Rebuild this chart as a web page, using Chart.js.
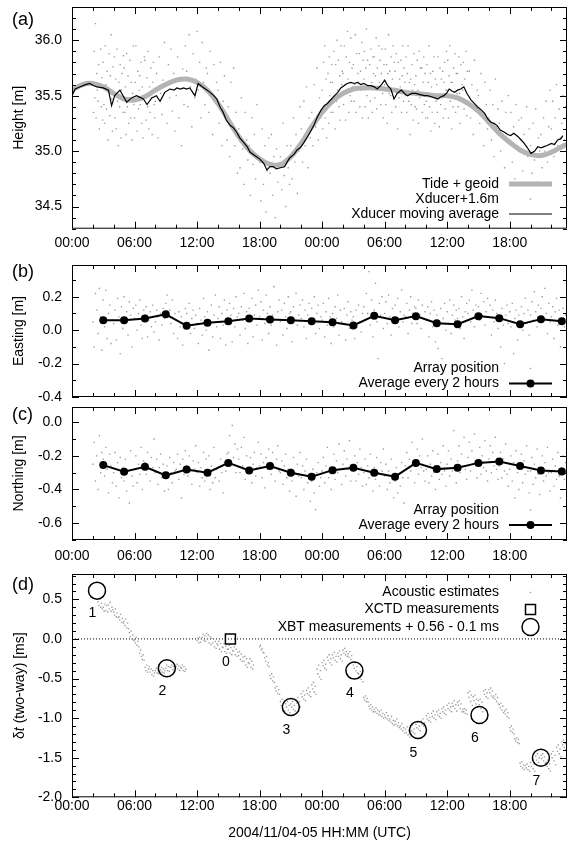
<!DOCTYPE html>
<html>
<head>
<meta charset="utf-8">
<title>Array height, position and travel-time anomaly</title>
<script src="https://cdn.jsdelivr.net/npm/chart.js@4/dist/chart.umd.min.js"></script>
<style>
  html, body { margin: 0; padding: 0; background: #fff; }
  body { width: 568px; height: 843px; position: relative; overflow: hidden; }
  canvas { position: absolute; left: 0; }
</style>
</head>
<body>
<canvas id="panelA" width="568" height="252" style="top:0px"></canvas>
<canvas id="panelB" width="568" height="160" style="top:252px"></canvas>
<canvas id="panelC" width="568" height="170" style="top:402px"></canvas>
<canvas id="panelD" width="568" height="271" style="top:572px"></canvas>
<script>
// ---------------------------------------------------------------
// Time axis: hours since 2004/11/04 00:00 UTC
// ---------------------------------------------------------------
const X_MAX = 47.5;
const hourTicks = [0, 6, 12, 18, 24, 30, 36, 42];
const heightTicks = [34.5, 35.0, 35.5, 36.0];
const eastTicks = [-0.4, -0.2, 0.0, 0.2];
const northTicks = [-0.6, -0.4, -0.2, 0.0];
const dtTicks = [-2.0, -1.5, -1.0, -0.5, 0.0, 0.5];

// (a) predicted tide + geoid height, hourly
const tideHours = [0,1,2,3,4,5,6,7,8,9,10,11,12,13,14,15,16,17,18,19,20,21,22,23,24,25,26,27,28,29,30,31,32,33,34,35,36,37,38,39,40,41,42,43,44,45,46,47,47.5];
const tideHeight = [35.55,35.60,35.61,35.58,35.52,35.47,35.46,35.49,35.55,35.60,35.64,35.65,35.62,35.55,35.43,35.28,35.13,35.01,34.93,34.88,34.88,34.95,35.07,35.22,35.35,35.45,35.52,35.56,35.57,35.57,35.56,35.55,35.53,35.52,35.51,35.50,35.50,35.48,35.43,35.36,35.26,35.16,35.08,35.01,34.97,34.96,34.99,35.04,35.06];

// (a) transducer moving average
const maHours = [0.0,0.3,0.8,1.3,1.7,2.1,2.4,3.0,3.5,3.8,4.1,4.6,4.9,5.25,5.7,6.2,6.85,7.2,7.65,8.1,8.45,8.9,9.4,9.8,10.05,10.4,10.7,11.0,11.3,11.8,12.1,12.5,12.8,13.25,13.6,13.9,14.2,14.5,14.8,15.2,15.5,15.8,16.1,16.45,16.8,17.1,17.4,17.7,18.0,18.4,18.7,19.0,19.3,19.6,20.0,20.4,20.7,20.9,21.3,21.6,21.9,22.2,22.6,22.85,23.2,23.55,23.9,24.2,24.5,24.9,25.2,25.5,25.8,26.1,26.4,26.75,27.1,27.4,27.7,28.0,28.4,28.7,29.0,29.3,29.7,30.0,30.3,30.6,30.9,31.2,31.6,31.9,32.2,32.6,33.0,33.4,33.8,34.1,34.5,34.8,35.1,35.4,35.7,36.0,36.2,36.5,36.7,37.0,37.3,37.6,37.9,38.3,38.6,38.9,39.3,39.6,39.9,40.2,40.5,40.8,41.1,41.5,41.8,42.1,42.4,42.8,43.1,43.4,43.7,44.05,44.4,44.7,45.0,45.3,45.6,46.0,46.3,46.6,46.9,47.1];
const maHeight = [35.50,35.56,35.58,35.60,35.61,35.59,35.58,35.57,35.55,35.41,35.50,35.55,35.50,35.44,35.48,35.50,35.47,35.42,35.48,35.50,35.45,35.53,35.56,35.55,35.57,35.56,35.57,35.56,35.57,35.50,35.61,35.58,35.56,35.53,35.50,35.47,35.40,35.35,35.28,35.23,35.21,35.17,35.12,35.08,35.04,34.99,34.97,34.95,34.93,34.89,34.83,34.86,34.86,34.84,34.85,34.86,34.91,34.94,34.97,35.01,35.03,35.07,35.13,35.17,35.23,35.31,35.37,35.41,35.43,35.47,35.50,35.53,35.57,35.59,35.61,35.62,35.61,35.62,35.60,35.61,35.59,35.59,35.58,35.56,35.60,35.64,35.59,35.56,35.47,35.52,35.55,35.52,35.50,35.52,35.52,35.51,35.50,35.50,35.49,35.48,35.47,35.49,35.50,35.53,35.56,35.54,35.53,35.55,35.56,35.58,35.52,35.46,35.43,35.40,35.37,35.34,35.29,35.26,35.25,35.23,35.19,35.17,35.15,35.14,35.16,35.13,35.10,35.07,35.03,34.98,35.00,35.04,35.03,35.04,35.05,35.07,35.06,35.10,35.11,35.14];

// (a) individual transducer fixes (+1.6 m), one row per hour from 02:00,
// spread evenly across the hour (at least 8 slots per hour)
const xducerStartHour = 2;
const xducerPerHour = 8;
const xducerRows = [
  [35.62,35.35,35.90,35.48,36.15,35.30,35.70,35.55,35.45,35.78,35.20,35.58,35.92,35.40,35.66,35.28],
  [35.80,35.42,35.25,35.95,35.60,35.38,35.72,35.10,35.55,35.88,35.32,35.68,36.05,35.47,35.18,35.76],
  [35.50,35.85,35.30,35.65,35.20,35.92,35.45,35.05,35.62,35.40,35.78,35.12,35.55,35.70,35.35,35.86],
  [35.75,35.35,35.58,35.15,35.88,35.40,35.68,35.25,35.48,35.82,35.30,35.62,35.10,35.52,35.95,35.42],
  [35.30,35.62,35.95,35.45,35.18,35.72,35.38,35.55,35.68,35.42,35.80,35.25,35.58,35.12,35.50,35.85],
  [35.82,35.50,35.28,35.66,35.40,35.90,35.20,35.58,35.35,35.75,35.48,35.15,35.62,35.80,35.42,35.30],
  [35.45,35.70,35.12,35.85,35.52,35.33,35.64,35.98],
  [35.60,35.25,35.78,35.48,35.92,35.36,35.70,35.18],
  [35.50,35.85,35.30,35.66,35.05,35.74,35.42,35.95],
  [35.72,35.40,36.05,35.58,35.22,35.88,35.48,35.65],
  [36.08,35.55,35.80,35.30,35.98,35.62,35.42,35.75],
  [35.70,35.35,35.90,35.52,35.15,35.78,35.45,35.62],
  [35.55,35.25,35.80,35.05,35.45,35.68,35.30,35.10],
  [35.40,34.95,35.62,35.20,35.75,35.05,35.35,34.80],
  [35.20,34.85,35.48,35.02,34.70,35.35,35.10,34.92],
  [35.05,34.60,35.30,34.88,35.15,34.75,35.42,34.95],
  [34.90,34.55,35.20,34.70,35.05,34.45,34.82,35.12],
  [34.80,35.15,34.60,34.95,34.40,35.02,34.72,34.88],
  [34.95,34.65,35.25,34.78,34.50,35.05,34.85,34.70],
  [35.05,34.75,35.30,34.90,35.15,34.62,35.00,35.40],
  [35.20,34.90,35.45,35.05,35.58,34.85,35.30,35.12],
  [35.35,35.05,35.60,35.22,35.75,35.10,35.48,35.30],
  [35.55,35.20,35.80,35.40,35.95,35.30,35.65,35.12,35.42,35.70,35.25,35.85,35.50,35.62,35.35,35.78],
  [35.62,35.35,35.90,35.50,35.20,35.78,35.45,36.00,35.55,35.82,35.40,35.68,35.28,35.95,35.60,35.72],
  [35.70,35.42,35.95,35.60,35.28,35.85,35.52,36.08,35.65,35.35,35.80,35.50,36.02,35.45,35.75,35.58],
  [35.78,35.45,35.60,36.05,35.35,35.88,35.55,35.70,35.62,35.88,35.40,35.72,35.55,35.98,35.30,35.82],
  [35.65,35.90,35.40,35.75,36.10,35.50,35.82,35.30,35.58,35.78,35.45,35.92,35.62,35.35,35.85,35.70],
  [35.85,35.48,35.68,36.02,35.38,35.75,35.58,35.95,35.62,35.82,35.42,35.70,35.92,35.52,35.30,35.78],
  [35.60,35.92,35.42,35.78,35.25,35.70,36.05,35.52,35.72,35.50,35.85,35.35,35.65,35.95,35.48,35.80],
  [35.72,35.40,35.88,35.55,35.20,35.80,35.48,35.65,35.58,35.82,35.35,35.68,35.95,35.45,35.75,35.62],
  [35.50,35.85,35.35,35.70,35.95,35.45,35.62,35.15,35.65,35.42,35.78,35.55,35.28,35.88,35.60,35.40],
  [35.68,35.38,35.82,35.55,35.25,35.90,35.48,35.75,35.52,35.75,35.35,35.62,35.85,35.42,35.70,35.30],
  [35.45,35.78,35.30,35.62,35.95,35.40,35.70,35.18,35.58,35.35,35.72,35.50,35.85,35.25,35.65,35.45],
  [35.60,35.35,35.85,35.50,35.22,35.75,35.42,35.65,35.48,35.72,35.30,35.62,35.80,35.38,35.55,35.90],
  [35.55,35.82,35.30,35.68,35.95,35.45,35.62,35.20,35.62,35.40,35.75,35.48,35.88,35.35,35.70,35.52],
  [35.70,35.40,35.85,35.52,35.25,35.78,35.48,35.60,35.55,35.80,35.38,35.65,35.45,35.90,35.32,35.72],
  [35.45,35.72,35.30,35.60,35.15,35.82,35.38,35.55],
  [35.50,35.25,35.70,35.35,35.05,35.62,35.42,35.20],
  [35.30,35.55,35.10,35.42,34.95,35.65,35.22,35.38],
  [35.25,35.00,35.45,35.15,34.85,35.35,35.08,35.50],
  [35.10,35.35,34.90,35.22,34.75,35.42,35.05,35.28],
  [35.02,35.30,34.82,35.15,34.70,35.40,34.95,35.20],
  [35.05,34.80,35.25,34.92,35.38,34.72,35.12,35.00],
  [35.15,34.85,35.30,35.00,35.45,34.90,35.22,35.55],
  [35.20,35.45,34.95,35.30,35.60,35.05,35.38,35.12],
  [35.25,35.50,35.10,35.40]
];

// (b), (c) two-hour averages of the array position
const avgHours = [3,5,7,9,11,13,15,17,19,21,23,25,27,29,31,33,35,37,39,41,43,45,47];
const eastingAvg = [0.060,0.060,0.070,0.095,0.026,0.044,0.054,0.070,0.064,0.060,0.054,0.048,0.028,0.086,0.060,0.084,0.042,0.036,0.084,0.072,0.036,0.066,0.054];
const northingAvg = [-0.255,-0.295,-0.265,-0.316,-0.281,-0.300,-0.242,-0.287,-0.261,-0.300,-0.324,-0.285,-0.271,-0.300,-0.324,-0.242,-0.279,-0.271,-0.242,-0.234,-0.261,-0.287,-0.293];

// (b), (c) individual array positions, 8 per hour from 02:00
const positionStartHour = 2;
const positionPerHour = 8;
const eastingRows = [
  [0.05,-0.10,0.22,0.12,-0.02,0.25,0.08,-0.12],
  [0.18,0.02,0.24,-0.05,0.10,0.15,-0.08,0.06],
  [0.04,0.12,-0.06,0.19,0.08,-0.14,0.14,0.01],
  [0.20,0.06,0.11,-0.03,0.17,0.09,-0.10,0.13],
  [0.07,0.15,0.00,0.10,0.18,0.03,-0.05,0.12],
  [0.09,0.14,-0.04,0.06,0.11,0.02,0.15,-0.01],
  [0.05,0.12,0.08,-0.06,0.10,0.03,0.13,0.07],
  [0.16,0.21,0.09,0.12,0.04,0.18,-0.02,0.10],
  [0.06,-0.05,0.11,0.02,0.08,-0.09,0.04,0.13],
  [0.10,0.03,0.16,-0.02,0.07,0.12,0.01,0.09],
  [0.04,-0.08,0.13,0.06,-0.03,0.19,0.08,0.00],
  [0.11,-0.12,0.05,0.15,-0.04,0.09,0.21,0.02],
  [0.07,0.14,-0.05,0.10,0.03,0.18,-0.09,0.12],
  [0.05,0.16,0.09,-0.07,0.13,0.02,0.20,0.08],
  [0.10,-0.03,0.14,0.06,0.22,0.01,0.11,-0.08],
  [0.13,0.05,0.19,-0.04,0.09,0.15,0.03,0.24],
  [0.08,0.17,-0.06,0.12,0.04,0.21,0.10,-0.02],
  [0.14,0.03,0.09,0.26,0.06,-0.09,0.11,0.18],
  [0.05,0.12,-0.03,0.16,0.08,0.01,0.20,0.10],
  [0.11,-0.07,0.14,0.06,0.22,0.03,0.09,0.15],
  [0.07,0.18,0.02,0.12,-0.05,0.09,0.16,0.04],
  [0.13,0.05,0.20,-0.02,0.10,0.15,0.01,0.08],
  [0.06,0.16,-0.04,0.11,0.03,0.19,0.08,-0.08],
  [0.10,0.02,0.14,0.07,0.21,-0.03,0.12,0.05],
  [0.04,0.13,-0.06,0.09,0.17,0.01,0.11,0.06],
  [0.08,-0.05,0.12,0.02,0.15,0.05,-0.01,0.10],
  [0.14,0.06,0.22,0.10,0.35,0.03,0.18,-0.04],
  [0.12,0.28,0.05,-0.17,0.16,0.09,0.20,0.01],
  [0.10,0.17,0.04,0.21,0.08,-0.03,0.13,0.06],
  [0.15,0.07,0.19,0.02,0.11,0.24,0.05,0.09],
  [0.08,0.16,-0.02,0.12,0.20,0.04,0.10,0.14],
  [0.13,0.04,0.18,0.09,0.01,0.15,0.07,0.11],
  [0.06,0.14,-0.04,0.10,0.17,0.02,0.12,-0.07],
  [0.09,-0.11,0.05,0.13,-0.17,0.07,0.16,0.00],
  [0.11,0.04,0.18,-0.02,0.09,0.15,0.06,0.12],
  [0.07,0.13,0.01,0.20,0.08,-0.05,0.11,0.16],
  [0.10,0.18,0.05,0.24,0.12,0.02,0.15,0.07],
  [0.14,0.06,0.22,0.09,0.17,0.03,0.11,0.19],
  [0.08,0.15,-0.03,0.12,0.05,0.18,0.10,0.01],
  [0.06,-0.10,0.13,0.03,-0.20,0.09,0.15,0.04],
  [0.11,0.02,0.16,-0.14,0.07,0.12,-0.06,0.09],
  [0.05,0.14,0.00,0.10,0.19,0.04,0.12,-0.03],
  [0.09,0.17,0.06,0.23,0.11,0.02,0.15,0.08],
  [0.13,0.20,0.07,0.25,0.10,-0.02,0.16,0.05],
  [0.08,0.14,-0.05,0.11,0.19,0.03,0.12,-0.10],
  [0.06,0.13,0.02,0.09]
];
const northingRows = [
  [-0.25,-0.12,-0.35,-0.20,-0.40,-0.08,-0.30,-0.18],
  [-0.22,-0.32,-0.15,-0.28,-0.42,-0.19,-0.26,-0.36],
  [-0.30,-0.18,-0.38,-0.24,-0.45,-0.21,-0.33,-0.27],
  [-0.35,-0.22,-0.41,-0.29,-0.48,-0.17,-0.32,-0.38],
  [-0.28,-0.20,-0.36,-0.25,-0.31,-0.15,-0.40,-0.23],
  [-0.24,-0.31,-0.18,-0.28,-0.35,-0.21,-0.27,-0.10],
  [-0.30,-0.22,-0.37,-0.27,-0.19,-0.33,-0.25,-0.41],
  [-0.33,-0.26,-0.40,-0.21,-0.30,-0.36,-0.24,-0.29],
  [-0.28,-0.19,-0.34,-0.25,-0.45,-0.22,-0.31,-0.17],
  [-0.26,-0.32,-0.20,-0.29,-0.37,-0.23,-0.28,-0.14],
  [-0.30,-0.24,-0.38,-0.27,-0.33,-0.18,-0.35,-0.22],
  [-0.31,-0.20,-0.40,-0.26,-0.36,-0.15,-0.33,-0.28],
  [-0.27,-0.35,-0.22,-0.30,-0.42,-0.24,-0.29,-0.19],
  [-0.18,-0.08,-0.25,-0.02,-0.21,-0.13,-0.30,-0.16],
  [-0.22,-0.30,-0.15,-0.26,-0.09,-0.34,-0.20,-0.27],
  [-0.29,-0.21,-0.36,-0.25,-0.18,-0.32,-0.27,-0.12],
  [-0.26,-0.19,-0.33,-0.24,-0.39,-0.21,-0.28,-0.16],
  [-0.24,-0.31,-0.18,-0.27,-0.35,-0.22,-0.14,-0.29],
  [-0.30,-0.23,-0.37,-0.26,-0.19,-0.33,-0.28,-0.41],
  [-0.28,-0.35,-0.21,-0.30,-0.44,-0.25,-0.32,-0.18],
  [-0.33,-0.26,-0.40,-0.29,-0.22,-0.36,-0.31,-0.47],
  [-0.35,-0.28,-0.42,-0.52,-0.30,-0.24,-0.38,-0.33],
  [-0.29,-0.21,-0.36,-0.26,-0.15,-0.33,-0.27,-0.40],
  [-0.27,-0.19,-0.34,-0.23,-0.30,-0.13,-0.28,-0.37],
  [-0.25,-0.17,-0.32,-0.22,-0.28,-0.11,-0.35,-0.26],
  [-0.28,-0.20,-0.35,-0.24,-0.31,-0.16,-0.27,-0.38],
  [-0.30,-0.22,-0.37,-0.26,-0.33,-0.19,-0.29,-0.41],
  [-0.27,-0.34,-0.21,-0.30,-0.38,-0.24,-0.29,-0.16],
  [-0.32,-0.25,-0.40,-0.29,-0.36,-0.22,-0.34,-0.45],
  [-0.35,-0.27,-0.42,-0.31,-0.38,-0.24,-0.33,-0.48],
  [-0.26,-0.18,-0.33,-0.22,-0.29,-0.12,-0.25,-0.36],
  [-0.24,-0.16,-0.31,-0.20,-0.27,-0.10,-0.29,-0.35],
  [-0.28,-0.20,-0.36,-0.25,-0.32,-0.17,-0.30,-0.40],
  [-0.27,-0.19,-0.34,-0.24,-0.31,-0.14,-0.29,-0.38],
  [-0.25,-0.17,-0.32,-0.22,-0.29,-0.05,-0.27,-0.36],
  [-0.23,-0.14,-0.30,-0.19,-0.26,-0.09,-0.28,-0.34],
  [-0.21,-0.12,-0.29,-0.17,-0.25,-0.07,-0.26,-0.33],
  [-0.24,-0.15,-0.31,-0.20,-0.27,-0.11,-0.29,-0.35],
  [-0.22,-0.14,-0.30,-0.18,-0.26,-0.09,-0.28,-0.34],
  [-0.26,-0.18,-0.33,-0.22,-0.29,-0.13,-0.31,-0.38],
  [-0.28,-0.20,-0.35,-0.24,-0.45,-0.17,-0.30,-0.40],
  [-0.27,-0.19,-0.36,-0.23,-0.31,-0.14,-0.29,-0.42],
  [-0.29,-0.21,-0.37,-0.25,-0.33,-0.16,-0.31,-0.43],
  [-0.28,-0.20,-0.35,-0.24,-0.32,-0.15,-0.30,-0.41],
  [-0.30,-0.22,-0.38,-0.26,-0.34,-0.18,-0.32,-0.45],
  [-0.27,-0.20,-0.34,-0.24]
];

// (d) acoustic travel-time estimates: [bin start hour, six values over the half hour]
const acousticBinHours = 0.5;
const acousticBins = [
  [2.5,0.47,0.42,0.50,0.40,0.45,0.38],[3.0,0.40,0.35,0.44,0.36,0.42,0.34],[3.5,0.43,0.38,0.46,0.35,0.40,0.37],
  [4.0,0.34,0.30,0.38,0.28,0.33,0.27],[4.5,0.28,0.24,0.31,0.21,0.26,0.20],[5.0,0.22,0.17,0.25,0.14,0.20,0.13],
  [5.5,0.08,0.03,0.10,0.00,0.05,-0.02],[6.0,-0.01,-0.05,0.02,-0.08,-0.03,-0.10],[6.5,-0.18,-0.14,-0.22,-0.26,-0.20,-0.27],
  [7.0,-0.36,-0.40,-0.33,-0.42,-0.38,-0.35],[7.5,-0.42,-0.38,-0.45,-0.40,-0.47,-0.43],[8.0,-0.40,-0.37,-0.43,-0.39,-0.44,-0.41],
  [8.5,-0.39,-0.36,-0.42,-0.38,-0.43,-0.40],[9.0,-0.37,-0.33,-0.40,-0.35,-0.41,-0.36],[9.5,-0.36,-0.33,-0.39,-0.35,-0.40,-0.37],
  [10.0,-0.35,-0.32,-0.38,-0.34,-0.40,-0.36],[10.5,-0.37,-0.33,-0.40,-0.35,-0.41,-0.38],
  [12.0,-0.02,0.01,-0.05,0.02,-0.04,0.00],[12.5,0.02,0.06,-0.02,0.04,-0.03,0.07],[13.0,0.00,0.05,-0.05,0.03,-0.07,0.01],
  [13.5,-0.05,0.00,-0.10,-0.03,-0.12,-0.06],[14.0,-0.08,-0.03,-0.13,-0.06,-0.16,-0.10],[14.5,-0.11,-0.06,-0.16,-0.09,-0.18,-0.13],
  [15.0,-0.13,-0.08,-0.18,-0.11,-0.20,-0.15],[15.5,-0.15,-0.10,-0.20,-0.13,-0.22,-0.17],[16.0,-0.21,-0.16,-0.26,-0.19,-0.28,-0.23],
  [16.5,-0.28,-0.22,-0.33,-0.25,-0.36,-0.30],[17.0,-0.31,-0.25,-0.36,-0.28,-0.38,-0.33],
  [18.0,-0.10,-0.08,-0.14,-0.12,-0.17,-0.18],[18.5,-0.24,-0.28,-0.22,-0.33,-0.30,-0.35],[19.0,-0.46,-0.50,-0.44,-0.53,-0.48,-0.55],
  [19.5,-0.62,-0.66,-0.60,-0.69,-0.64,-0.70],[20.0,-0.79,-0.84,-0.76,-0.88,-0.81,-0.91],[20.5,-0.82,-0.86,-0.79,-0.90,-0.84,-0.93],
  [21.0,-0.82,-0.86,-0.79,-0.89,-0.84,-0.91],[21.5,-0.77,-0.81,-0.74,-0.84,-0.79,-0.86],[22.0,-0.69,-0.73,-0.66,-0.76,-0.71,-0.78],
  [22.5,-0.65,-0.69,-0.62,-0.71,-0.67,-0.73],[23.0,-0.58,-0.63,-0.55,-0.67,-0.60,-0.70],[23.5,-0.38,-0.44,-0.33,-0.48,-0.40,-0.51],
  [24.0,-0.30,-0.34,-0.27,-0.37,-0.32,-0.39],[24.5,-0.23,-0.27,-0.20,-0.30,-0.25,-0.33],[25.0,-0.20,-0.24,-0.17,-0.27,-0.22,-0.29],
  [25.5,-0.18,-0.22,-0.15,-0.25,-0.20,-0.28],[26.0,-0.14,-0.18,-0.12,-0.20,-0.16,-0.22],[26.5,-0.19,-0.23,-0.16,-0.26,-0.21,-0.29],
  [27.0,-0.33,-0.37,-0.30,-0.40,-0.35,-0.43],[27.5,-0.44,-0.48,-0.41,-0.51,-0.46,-0.54],[28.0,-0.74,-0.77,-0.72,-0.79,-0.75,-0.80],
  [28.5,-0.85,-0.88,-0.83,-0.90,-0.86,-0.92],[29.0,-0.89,-0.92,-0.87,-0.94,-0.90,-0.96],[29.5,-0.92,-0.96,-0.90,-0.98,-0.94,-1.00],
  [30.0,-0.96,-0.99,-0.93,-1.01,-0.97,-1.03],[30.5,-1.01,-1.05,-0.98,-1.07,-1.03,-1.09],[31.0,-1.04,-1.08,-1.01,-1.10,-1.06,-1.12],
  [31.5,-1.10,-1.14,-1.07,-1.16,-1.12,-1.19],[32.0,-1.14,-1.18,-1.11,-1.21,-1.16,-1.24],[32.5,-1.12,-1.16,-1.09,-1.18,-1.14,-1.20],
  [33.0,-1.08,-1.12,-1.05,-1.14,-1.10,-1.16],[33.5,-1.04,-1.08,-1.01,-1.10,-1.06,-1.12],[34.0,-0.97,-1.01,-0.94,-1.03,-0.99,-1.05],
  [34.5,-0.94,-0.98,-0.91,-1.00,-0.96,-1.02],[35.0,-0.92,-0.96,-0.90,-0.98,-0.94,-1.00],[35.5,-0.88,-0.92,-0.86,-0.94,-0.90,-0.96],
  [36.0,-0.84,-0.88,-0.81,-0.90,-0.86,-0.92],[36.5,-0.81,-0.85,-0.78,-0.88,-0.83,-0.91],[37.0,-0.80,-0.84,-0.78,-0.88,-0.82,-0.92],
  [37.5,-0.89,-0.92,-0.88,-0.94,-0.90,-0.95],[38.0,-0.68,-0.74,-0.66,-0.79,-0.71,-0.84],[38.5,-0.73,-0.78,-0.71,-0.82,-0.76,-0.86],
  [39.0,-0.78,-0.83,-0.76,-0.88,-0.80,-0.92],[39.5,-0.66,-0.70,-0.64,-0.73,-0.68,-0.75],[40.0,-0.64,-0.68,-0.62,-0.72,-0.66,-0.74],
  [40.5,-0.72,-0.76,-0.70,-0.79,-0.74,-0.82],[41.0,-0.83,-0.87,-0.81,-0.90,-0.85,-0.93],[41.5,-0.91,-0.95,-0.89,-0.98,-0.93,-1.00],
  [42.0,-1.12,-1.16,-1.10,-1.18,-1.14,-1.20],[42.5,-1.26,-1.29,-1.25,-1.31,-1.27,-1.32],[43.0,-1.57,-1.61,-1.55,-1.63,-1.59,-1.65],
  [43.5,-1.60,-1.63,-1.58,-1.65,-1.61,-1.67],[44.0,-1.56,-1.61,-1.53,-1.64,-1.58,-1.67],[44.5,-1.48,-1.53,-1.45,-1.56,-1.50,-1.60],
  [45.0,-1.47,-1.51,-1.45,-1.54,-1.49,-1.57],[45.5,-1.56,-1.61,-1.53,-1.64,-1.58,-1.67],[46.0,-1.45,-1.50,-1.42,-1.54,-1.47,-1.59],
  [46.5,-1.37,-1.42,-1.34,-1.45,-1.39,-1.49],[47.0,-1.30,-1.34,-1.28,-1.37,-1.32,-1.40]
];

// (d) probe casts
const xctdHours = [15.2];
const xctdDt = [0.0];
const xctdLabels = ['0'];
const xbtHours = [2.4, 9.1, 21.0, 27.1, 33.2, 39.1, 45.0];
const xbtDt = [0.61, -0.37, -0.86, -0.40, -1.15, -0.96, -1.50];
const xbtLabels = ['1', '2', '3', '4', '5', '6', '7'];

// (d) reference level
const zeroLineHours = [0, X_MAX];
const zeroLineDt = [0, 0];

// ---------------------------------------------------------------
// helpers
// ---------------------------------------------------------------
const FONT = '"Liberation Sans", Arial, Helvetica, sans-serif';
const DOT = '#9a9a9a';
Chart.defaults.font.family = FONT;
Chart.defaults.font.size = 14;
Chart.defaults.color = '#000';

const zip = (xs, ys) => xs.map((x, i) => ({ x, y: ys[i] }));
function hourlyRows(start, perHour, rows) {
  const pts = [];
  rows.forEach((row, i) => {
    const slots = Math.max(row.length, perHour);
    row.forEach((v, k) => pts.push({ x: start + i + k / slots, y: v }));
  });
  return pts;
}
function binRows(span, rows) {
  const pts = [];
  rows.forEach(([t0, ...vals]) => vals.forEach((v, k) => pts.push({ x: t0 + k * span / vals.length, y: v })));
  return pts;
}
function hh(v) {
  const h = ((v % 24) + 24) % 24;
  return String(h).padStart(2, '0') + ':00';
}
function dotSet(label, data) {
  return { label, data, pointStyle: 'rect', pointRadius: 0.95, pointBorderWidth: 0,
           pointBackgroundColor: DOT, backgroundColor: DOT, showLine: false, order: 5 };
}

// gnuplot-style frame: border, inward ticks on all four sides, panel letter, key, annotations
function framePlugin(cfg) {
  return {
    id: 'gnuFrame',
    afterDraw(chart) {
      const ctx = chart.ctx;
      const { left, right, top, bottom } = chart.chartArea;
      const xs = chart.scales.x, ys = chart.scales.y;
      ctx.save();
      ctx.strokeStyle = '#000';
      ctx.lineWidth = 1;
      ctx.beginPath();
      for (let h = 2; h < X_MAX; h += 2) {
        const px = Math.round(xs.getPixelForValue(h)) + 0.5;
        const len = h % 6 === 0 ? 7 : 4;
        ctx.moveTo(px, bottom); ctx.lineTo(px, bottom - len);
        ctx.moveTo(px, top); ctx.lineTo(px, top + len);
      }
      const n0 = Math.ceil(ys.min / cfg.yMinor - 1e-6);
      const n1 = Math.floor(ys.max / cfg.yMinor + 1e-6);
      for (let i = n0; i <= n1; i++) {
        const v = i * cfg.yMinor;
        const r = v / cfg.yMajor;
        const len = Math.abs(r - Math.round(r)) < 1e-6 ? 7 : 4;
        const py = Math.round(ys.getPixelForValue(v)) + 0.5;
        ctx.moveTo(left, py); ctx.lineTo(left + len, py);
        ctx.moveTo(right, py); ctx.lineTo(right - len, py);
      }
      ctx.stroke();
      ctx.strokeRect(left + 0.5, top + 0.5, right - left - 1, bottom - top - 1);

      // panel letter
      ctx.fillStyle = '#000';
      ctx.font = '18px ' + FONT;
      ctx.textAlign = 'left';
      ctx.textBaseline = 'middle';
      ctx.fillText(cfg.panel, 12, cfg.panelY);

      // key
      ctx.font = '14px ' + FONT;
      const textRight = 499, s0 = 509, s1 = 552, sc = 530.5;
      (cfg.key || []).forEach(row => {
        ctx.fillStyle = '#000';
        ctx.textAlign = 'right';
        ctx.fillText(row.text, textRight, row.y);
        if (row.sample === 'line' || row.sample === 'lineDot') {
          ctx.strokeStyle = row.color; ctx.lineWidth = row.width;
          ctx.beginPath(); ctx.moveTo(s0, row.y); ctx.lineTo(s1, row.y); ctx.stroke();
        }
        if (row.sample === 'lineDot') {
          ctx.fillStyle = '#000';
          ctx.beginPath(); ctx.arc(sc, row.y, 4, 0, Math.PI * 2); ctx.fill();
        }
        if (row.sample === 'dot') {
          ctx.fillStyle = DOT; ctx.fillRect(sc - 0.7, row.y - 0.7, 1.4, 1.4);
        }
        if (row.sample === 'square') {
          ctx.strokeStyle = '#000'; ctx.lineWidth = 1.5;
          ctx.strokeRect(sc - 5, row.y - 5, 10, 10);
        }
        if (row.sample === 'circle') {
          ctx.strokeStyle = '#000'; ctx.lineWidth = 1.5;
          ctx.beginPath(); ctx.arc(sc, row.y, 8.5, 0, Math.PI * 2); ctx.stroke();
        }
      });

      // cast numbers below each symbol
      (cfg.tags || []).forEach(tag => {
        tag.hours.forEach((t, i) => {
          const px = xs.getPixelForValue(t) - 4.5;
          const py = ys.getPixelForValue(tag.values[i]) + 23;
          ctx.fillStyle = '#000';
          ctx.textAlign = 'center';
          ctx.textBaseline = 'middle';
          ctx.fillText(tag.labels[i], px, py);
        });
      });

      // y title with italic t
      if (cfg.dtTitle) {
        const parts = [['δ', '14px '], ['t', 'italic 14px '], [' (two-way) [ms]', '14px ']];
        let total = 0;
        parts.forEach(p => { ctx.font = p[1] + FONT; total += ctx.measureText(p[0]).width; });
        ctx.translate(20, (top + bottom) / 2);
        ctx.rotate(-Math.PI / 2);
        ctx.textAlign = 'left';
        ctx.textBaseline = 'middle';
        let x = -total / 2;
        parts.forEach(p => { ctx.font = p[1] + FONT; ctx.fillText(p[0], x, 0); x += ctx.measureText(p[0]).width; });
      }
      ctx.restore();
    }
  };
}

function makePanel(id, cfg) {
  return new Chart(document.getElementById(id), {
    type: 'scatter',
    data: { datasets: cfg.datasets },
    options: {
      responsive: false,
      animation: false,
      devicePixelRatio: 1,
      layout: { autoPadding: false, padding: { left: 0, right: 1, top: cfg.padTop, bottom: 0 } },
      plugins: { legend: { display: false }, tooltip: { enabled: false } },
      scales: {
        x: {
          type: 'linear', min: 0, max: X_MAX,
          afterBuildTicks: s => { s.ticks = hourTicks.map(v => ({ value: v })); },
          afterFit: s => { s.height = cfg.xAxisHeight; s.paddingLeft = 0; s.paddingRight = 0; },
          grid: { display: false, drawTicks: false },
          border: { display: false },
          ticks: { display: cfg.xLabels, padding: cfg.xPad || 0, maxRotation: 0, autoSkip: false,
                   callback: v => hh(v) },
          title: { display: !!cfg.xTitle, text: cfg.xTitle || '', padding: { top: 0, bottom: 1 } }
        },
        y: {
          type: 'linear', min: cfg.yMin, max: cfg.yMax,
          afterBuildTicks: s => { s.ticks = cfg.yTicks.map(v => ({ value: v })); },
          afterFit: s => { s.width = 72; s.paddingTop = 0; s.paddingBottom = 0; },
          grid: { display: false, drawTicks: false },
          border: { display: false },
          ticks: { padding: 10, callback: v => Number(v).toFixed(1) },
          title: { display: !!cfg.yTitle, text: cfg.yTitle || '', padding: { top: 11, bottom: 0 } }
        }
      }
    },
    plugins: [framePlugin(cfg)]
  });
}

// ---------------------------------------------------------------
// (a) height
// ---------------------------------------------------------------
makePanel('panelA', {
  panel: '(a)', panelY: 20, padTop: 7, xAxisHeight: 23.3, xLabels: true, xPad: 6,
  yMin: 34.3, yMax: 36.3, yTicks: heightTicks, yMajor: 0.5, yMinor: 0.1, yTitle: 'Height [m]',
  key: [
    { text: 'Tide + geoid', y: 184, sample: 'line', color: '#b4b4b4', width: 5 },
    { text: 'Xducer+1.6m', y: 199, sample: 'dot' },
    { text: 'Xducer moving average', y: 214, sample: 'line', color: '#000', width: 1.2 }
  ],
  datasets: [
    { label: 'Xducer moving average', data: zip(maHours, maHeight), showLine: true,
      borderColor: '#000', borderWidth: 1.2, pointRadius: 0, order: 0 },
    { label: 'Tide + geoid', data: zip(tideHours, tideHeight), showLine: true, tension: 0.35,
      borderColor: '#b4b4b4', borderWidth: 5, pointRadius: 0, order: 1 },
    dotSet('Xducer+1.6m', hourlyRows(xducerStartHour, xducerPerHour, xducerRows))
  ]
});

// ---------------------------------------------------------------
// (b) easting
// ---------------------------------------------------------------
makePanel('panelB', {
  panel: '(b)', panelY: 20.5, padTop: 13, xAxisHeight: 15, xLabels: false,
  yMin: -0.4, yMax: 0.39, yTicks: eastTicks, yMajor: 0.2, yMinor: 0.1, yTitle: 'Easting [m]',
  key: [
    { text: 'Array position', y: 116.5, sample: 'dot' },
    { text: 'Average every 2 hours', y: 131.5, sample: 'lineDot', color: '#000', width: 2 }
  ],
  datasets: [
    { label: 'Average every 2 hours', data: zip(avgHours, eastingAvg), showLine: true,
      borderColor: '#000', borderWidth: 2, pointRadius: 4, pointBorderWidth: 0,
      pointBackgroundColor: '#000', order: 0 },
    dotSet('Array position', hourlyRows(positionStartHour, positionPerHour, eastingRows))
  ]
});

// ---------------------------------------------------------------
// (c) northing
// ---------------------------------------------------------------
makePanel('panelC', {
  panel: '(c)', panelY: 13, padTop: 5, xAxisHeight: 32, xLabels: true, xPad: 7.5,
  yMin: -0.7, yMax: 0.09, yTicks: northTicks, yMajor: 0.2, yMinor: 0.1, yTitle: 'Northing [m]',
  key: [
    { text: 'Array position', y: 108, sample: 'dot' },
    { text: 'Average every 2 hours', y: 123, sample: 'lineDot', color: '#000', width: 2 }
  ],
  datasets: [
    { label: 'Average every 2 hours', data: zip(avgHours, northingAvg), showLine: true,
      borderColor: '#000', borderWidth: 2, pointRadius: 4, pointBorderWidth: 0,
      pointBackgroundColor: '#000', order: 0 },
    dotSet('Array position', hourlyRows(positionStartHour, positionPerHour, northingRows))
  ]
});

// ---------------------------------------------------------------
// (d) travel-time anomaly
// ---------------------------------------------------------------
makePanel('panelD', {
  panel: '(d)', panelY: 13, padTop: 2, xAxisHeight: 45.7, xLabels: true, xPad: 0,
  xTitle: '2004/11/04-05 HH:MM (UTC)',
  yMin: -2.0, yMax: 0.82, yTicks: dtTicks, yMajor: 0.5, yMinor: 0.1, dtTitle: true,
  key: [
    { text: 'Acoustic estimates', y: 20.5, sample: 'dot' },
    { text: 'XCTD measurements', y: 37.5, sample: 'square' },
    { text: 'XBT measurements + 0.56 - 0.1 ms', y: 55, sample: 'circle' }
  ],
  tags: [
    { hours: xbtHours, values: xbtDt, labels: xbtLabels },
    { hours: xctdHours, values: xctdDt, labels: xctdLabels }
  ],
  datasets: [
    { label: 'XBT measurements + 0.56 - 0.1 ms', data: zip(xbtHours, xbtDt), pointStyle: 'circle',
      pointRadius: 8.5, pointBorderWidth: 1.5, pointBorderColor: '#000',
      pointBackgroundColor: 'rgba(0,0,0,0)', order: 0 },
    { label: 'XCTD measurements', data: zip(xctdHours, xctdDt), pointStyle: 'rect',
      pointRadius: 7.07, pointBorderWidth: 1.5, pointBorderColor: '#000',
      pointBackgroundColor: 'rgba(0,0,0,0)', order: 1 },
    dotSet('Acoustic estimates', binRows(acousticBinHours, acousticBins)),
    { label: 'zero', data: zip(zeroLineHours, zeroLineDt), showLine: true, borderColor: '#000',
      borderWidth: 1, borderDash: [1, 2], pointRadius: 0, order: 9 }
  ]
});
</script>
</body>
</html>
